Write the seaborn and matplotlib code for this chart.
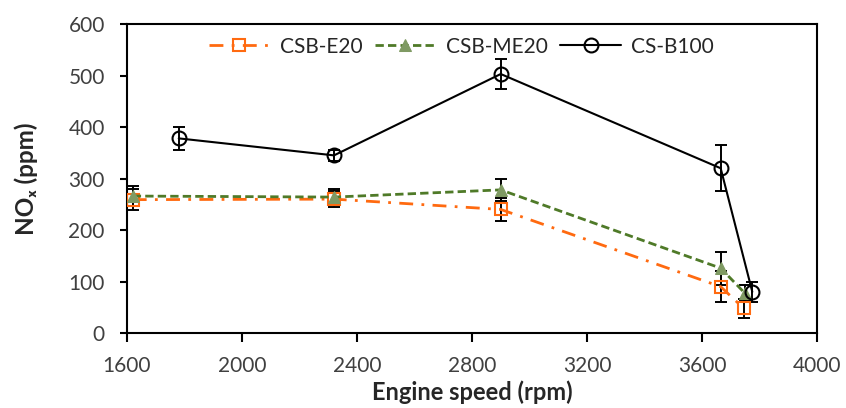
import matplotlib
matplotlib.use("Agg")
import matplotlib.pyplot as plt
import seaborn as sns
import pandas as pd

series = ["CSB-E20", "CSB-ME20", "CS-B100"]
speed_e20 = [1620, 2320, 2900, 3665, 3745]
nox_e20 = [259, 260, 240, 90, 48]
err_e20 = [20, 16, 22, 30, 18]
speed_me20 = [1620, 2320, 2900, 3665, 3748]
nox_me20 = [266, 264, 278, 126, 78]
err_me20 = [20, 16, 22, 32, 15]
speed_b100 = [1780, 2320, 2900, 3665, 3775]
nox_b100 = [378, 345, 503, 320, 80]
err_b100 = [22, 10, 30, 45, 20]

x_ticks = [1600, 2000, 2400, 2800, 3200, 3600, 4000]
y_ticks = [0, 100, 200, 300, 400, 500, 600]

df = pd.concat([
    pd.DataFrame({"speed": speed_e20, "nox": nox_e20, "err": err_e20, "fuel": series[0]}),
    pd.DataFrame({"speed": speed_me20, "nox": nox_me20, "err": err_me20, "fuel": series[1]}),
    pd.DataFrame({"speed": speed_b100, "nox": nox_b100, "err": err_b100, "fuel": series[2]}),
], ignore_index=True)

sns.set_style("white")
plt.rcParams["font.family"] = ["Lato", "DejaVu Sans"]

ORANGE = "#FF6A10"
GREEN = "#4F7A28"
TRI = "#7F9A63"

fig = plt.figure(figsize=(8.46, 4.08), dpi=100)
ax = fig.add_axes([0.1501, 0.1838, 0.8156, 0.7572])

# error bars
for name in series:
    d = df[df.fuel == name]
    ax.errorbar(d.speed, d.nox, yerr=d.err, fmt="none", ecolor="black",
                elinewidth=1.4, capsize=4, capthick=1.4, zorder=2)

line_colors = {"CSB-E20": ORANGE, "CSB-ME20": GREEN, "CS-B100": "black"}
sns.lineplot(data=df, x="speed", y="nox", hue="fuel", style="fuel",
             hue_order=series, style_order=series, palette=line_colors,
             dashes={"CSB-E20": (5, 3, 1, 3), "CSB-ME20": (3, 1.5), "CS-B100": ""},
             markers={"CSB-E20": "s", "CSB-ME20": "^", "CS-B100": "o"},
             sort=False, linewidth=2, markersize=9, ax=ax, zorder=3)

def style_marker(line):
    m = line.get_marker()
    if m == "s":
        line.set_markerfacecolor("none"); line.set_markeredgecolor(ORANGE); line.set_markeredgewidth(1.5)
    elif m == "^":
        line.set_markerfacecolor(TRI); line.set_markeredgecolor(TRI); line.set_markersize(8)
    elif m == "o":
        line.set_markerfacecolor("none"); line.set_markeredgecolor("black")
        line.set_markeredgewidth(1.5); line.set_markersize(10); line.set_linewidth(1.5)

for line in ax.lines:
    style_marker(line)

ax.set_xlim(1600, 4000)
ax.set_ylim(0, 600)
ax.set_xticks(x_ticks)
ax.set_yticks(y_ticks)
ax.tick_params(axis="both", direction="out", width=1.5, colors="black",
               labelcolor="#404040", labelsize=15, left=True, bottom=True)
ax.tick_params(axis="y", length=5, pad=11)
ax.tick_params(axis="x", length=6.5, pad=10)
for s in ax.spines.values():
    s.set_linewidth(1.5)
    s.set_color("black")

ax.set_xlabel("Engine speed (rpm)", fontsize=17, fontweight="bold", labelpad=3)
ax.set_ylabel("NOₓ (ppm)", fontsize=17.5, fontweight="bold", labelpad=22)

leg = ax.legend(loc="upper center", ncol=3, frameon=False, fontsize=15,
                handlelength=2.9, columnspacing=0.6, handletextpad=0.5,
                bbox_to_anchor=(0.485, 1.02))
for h in leg.legend_handles:
    style_marker(h)

fig.savefig("out.png", dpi=100)
